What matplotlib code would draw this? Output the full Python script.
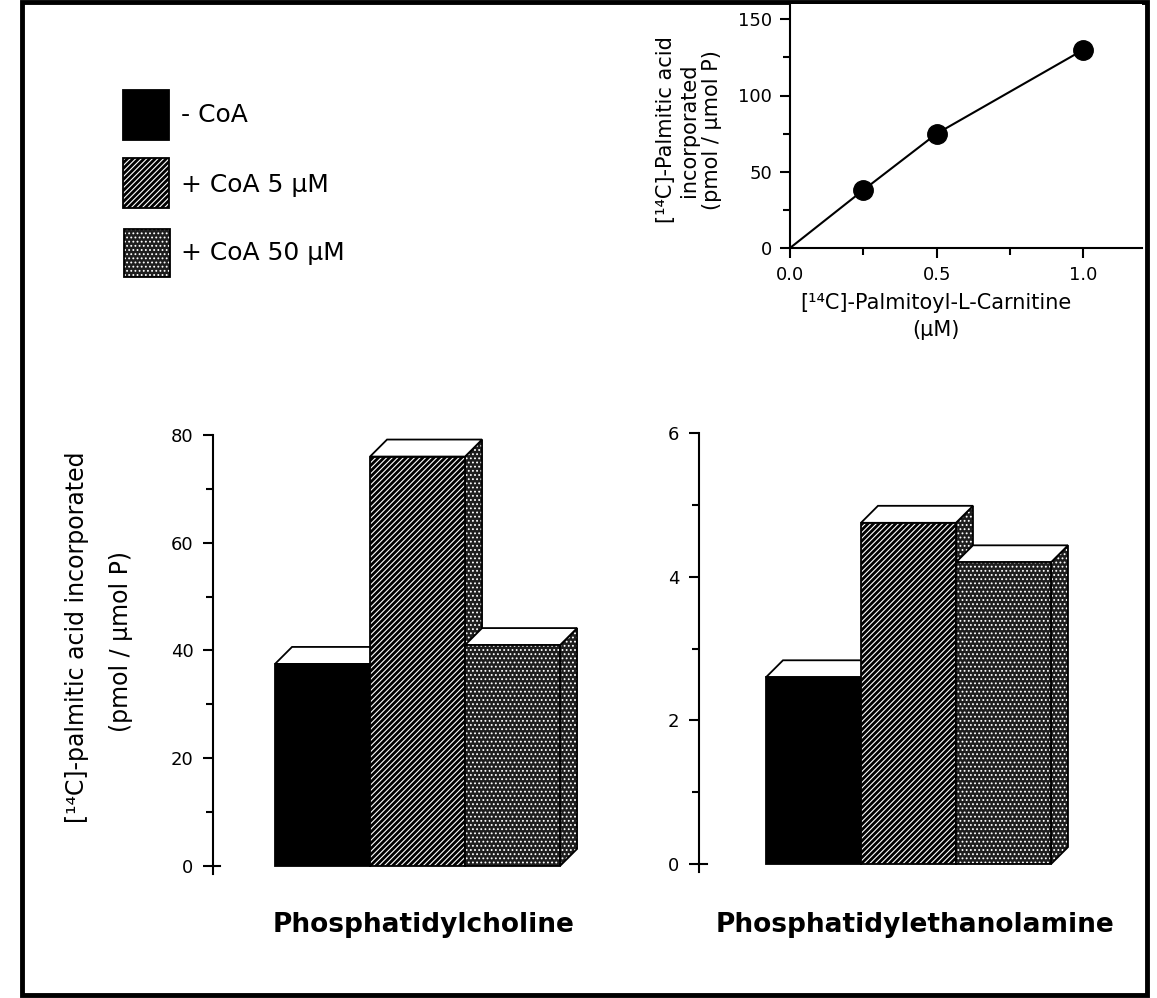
import matplotlib
matplotlib.use('Agg')
import matplotlib.pyplot as plt
from matplotlib.patches import Polygon, Rectangle
from matplotlib.ticker import MultipleLocator
import matplotlib.transforms as mtransforms

# values
conditions = ['- CoA', '+ CoA 5 µM', '+ CoA 50 µM']
lipids = ['Phosphatidylcholine', 'Phosphatidylethanolamine']
pc_vals = [37.5, 76.0, 41.0]
pe_vals = [2.6, 4.75, 4.2]

carnitine = [0.25, 0.5, 1.0]
incorporated = [38, 75, 130]

W, H = 1157, 998
plt.rcParams['hatch.linewidth'] = 0.8
plt.rcParams['font.family'] = ['DejaVu Sans']

fig = plt.figure(figsize=(W / 100, H / 100), dpi=100)

# background axes in pixel coordinates for frame / legend / labels
bg = fig.add_axes([0, 0, 1, 1])
bg.set_xlim(0, W)
bg.set_ylim(H, 0)
bg.axis('off')


def px_axes(left, top, right, bottom):
    return fig.add_axes([left / W, (H - bottom) / H, (right - left) / W, (bottom - top) / H])


styles = [
    dict(facecolor='black', edgecolor='black', hatch=None),
    dict(facecolor='black', edgecolor='white', hatch='//////'),
    dict(facecolor='#1e1e1e', edgecolor='white', hatch='....'),
]
side_style = dict(facecolor='#1e1e1e', edgecolor='white', hatch='....')
top_style = dict(facecolor='white', edgecolor='black', hatch=None)


def add_face(ax, pts, st, z):
    ax.add_patch(Polygon(pts, closed=True, facecolor=st['facecolor'],
                         edgecolor=st['edgecolor'], hatch=st['hatch'],
                         linewidth=0, zorder=z))
    ax.add_patch(Polygon(pts, closed=True, fill=False, edgecolor='black',
                         linewidth=1.3, zorder=z + 0.01))


def bar3d(ax, vals, ax_w_px, ax_h_px, depth_px=17):
    x0l, x1l = ax.get_xlim()
    y0l, y1l = ax.get_ylim()
    dx = depth_px * (x1l - x0l) / ax_w_px
    dy = depth_px * (y1l - y0l) / ax_h_px
    for i, h in enumerate(vals):
        x0, x1 = i - 0.5, i + 0.5
        z = 2 + i
        side = [(x1, 0), (x1 + dx, dy), (x1 + dx, h + dy), (x1, h)]
        top = [(x0, h), (x1, h), (x1 + dx, h + dy), (x0 + dx, h + dy)]
        front = [(x0, 0), (x1, 0), (x1, h), (x0, h)]
        add_face(ax, side, side_style, z)
        add_face(ax, top, top_style, z + 0.1)
        add_face(ax, front, styles[i], z + 0.2)


def style_bar_axes(ax, major, minor):
    for s in ['top', 'right', 'bottom']:
        ax.spines[s].set_visible(False)
    ax.spines['left'].set_linewidth(1.5)
    ax.set_xticks([])
    ax.yaxis.set_major_locator(MultipleLocator(major))
    ax.yaxis.set_minor_locator(MultipleLocator(minor))
    ax.tick_params(axis='y', which='major', direction='out', length=7, width=1.5,
                   labelsize=13, pad=7)
    ax.tick_params(axis='y', which='minor', direction='out', length=5, width=1.5)
    # right half of the cross tick at zero
    trans = mtransforms.blended_transform_factory(ax.transAxes, ax.transData)
    ax.plot([0, 0.018], [0, 0], color='black', lw=1.5, transform=trans, clip_on=False)


# Phosphatidylcholine panel
pc_box = (213, 435, 620, 874)
ax1 = px_axes(*pc_box)
ax1.set_xlim(-1.153, 3.131)
ax1.set_ylim(-1.5, 80)
style_bar_axes(ax1, 20, 10)
bar3d(ax1, pc_vals, pc_box[2] - pc_box[0], pc_box[3] - pc_box[1])

# Phosphatidylethanolamine panel
pe_box = (699, 433, 1119, 872)
ax2 = px_axes(*pe_box)
ax2.set_xlim(-1.205, 3.216)
ax2.set_ylim(-0.11, 6)
style_bar_axes(ax2, 2, 1)
bar3d(ax2, pe_vals, pe_box[2] - pe_box[0], pe_box[3] - pe_box[1])

# inset: incorporation vs palmitoyl-carnitine
ax3 = px_axes(790, 4, 1142, 248)
ax3.plot([0] + carnitine, [0] + incorporated, color='black', lw=1.5)
ax3.plot(carnitine, incorporated, 'o', color='black', ms=14)
ax3.set_xlim(0, 1.2)
ax3.set_ylim(0, 160)
for s in ['top', 'right']:
    ax3.spines[s].set_visible(False)
for s in ['left', 'bottom']:
    ax3.spines[s].set_linewidth(1.5)
ax3.xaxis.set_major_locator(MultipleLocator(0.5))
ax3.xaxis.set_minor_locator(MultipleLocator(0.25))
ax3.yaxis.set_major_locator(MultipleLocator(50))
ax3.yaxis.set_minor_locator(MultipleLocator(25))
ax3.xaxis.set_major_formatter(lambda v, p: f'{v:.1f}')
ax3.tick_params(which='major', direction='out', length=7, width=1.5, labelsize=13, pad=6)
ax3.tick_params(which='minor', direction='out', length=5, width=1.5)

# frame
bg.add_patch(Rectangle((22, 2), 1125, 993, fill=False, edgecolor='black', lw=3.5))

# legend
swatches = [(123, 90, 46, 50), (123, 158, 46, 50), (124, 229, 46, 48)]
text_y = [115, 185, 253]
for i, (lab, (sx, sy, sw, sh)) in enumerate(zip(conditions, swatches)):
    st = styles[i]
    bg.add_patch(Rectangle((sx, sy), sw, sh, facecolor=st['facecolor'],
                           edgecolor=st['edgecolor'], hatch=st['hatch'], lw=0))
    bg.add_patch(Rectangle((sx, sy), sw, sh, fill=False, edgecolor='black', lw=1.3))
    bg.text(181, text_y[i], lab, fontsize=18, ha='left', va='center')

# axis labels
bg.text(77, 637, '[¹⁴C]-palmitic acid incorporated', rotation=90, fontsize=17,
        ha='center', va='center')
bg.text(121, 641, '(pmol / µmol P)', rotation=90, fontsize=17, ha='center', va='center')

for xx, lab in zip([666, 689, 712], ['[¹⁴C]-Palmitic acid', 'incorporated', '(pmol / µmol P)']):
    bg.text(xx, 130, lab, rotation=90, fontsize=15, ha='center', va='center')

bg.text(936, 303, '[¹⁴C]-Palmitoyl-L-Carnitine', fontsize=15, ha='center', va='center')
bg.text(936, 330, '(µM)', fontsize=15, ha='center', va='center')

# group labels
bg.text(424, 925, lipids[0], fontsize=19, fontweight='bold', ha='center', va='center')
bg.text(915, 925, lipids[1], fontsize=19, fontweight='bold', ha='center', va='center')

fig.savefig('out.png', dpi=100)
